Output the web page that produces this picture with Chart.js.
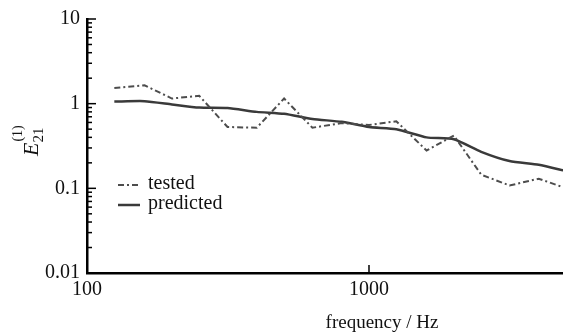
<!DOCTYPE html>
<html>
<head>
<meta charset="utf-8">
<script src="https://cdn.jsdelivr.net/npm/chart.js@4/dist/chart.umd.min.js"></script>
<style>
  body { margin: 0; background: #fff; }
  #wrap { width: 563px; height: 336px; position: relative; }
</style>
</head>
<body>
<div id="wrap"><canvas id="chart"></canvas></div>
<script>
// data (1/3-octave bands)
const freqs = [125, 160, 200, 250, 315, 400, 500, 630, 800, 1000, 1250, 1600, 2000, 2500, 3150, 4000, 5000];
const tested = [1.53, 1.65, 1.15, 1.24, 0.53, 0.52, 1.15, 0.52, 0.59, 0.56, 0.62, 0.28, 0.42, 0.145, 0.108, 0.13, 0.1];
const predicted = [1.06, 1.07, 0.98, 0.9, 0.89, 0.8, 0.76, 0.66, 0.61, 0.53, 0.5, 0.4, 0.38, 0.27, 0.21, 0.19, 0.16];
const xTicks = [100, 1000];
const yTicks = [0.01, 0.1, 1, 10];
const seriesNames = ["tested", "predicted"];

const serif = "'Liberation Serif', 'Times New Roman', serif";

// tick marks, legend and axis titles
const extras = {
  id: "extras",
  afterDraw(chart) {
    const ctx = chart.ctx;
    const x = chart.scales.x;
    const y = chart.scales.y;
    const left = chart.chartArea.left;
    const bottom = chart.chartArea.bottom;
    ctx.save();
    ctx.strokeStyle = "#000";
    ctx.lineWidth = 1.5;

    // y ticks, inward
    yTicks.forEach((d) => {
      const py = y.getPixelForValue(d);
      ctx.beginPath();
      ctx.moveTo(left, py);
      ctx.lineTo(left + 9, py);
      ctx.stroke();
      if (d < 10) {
        for (let k = 2; k < 10; k++) {
          const my = y.getPixelForValue(d * k);
          ctx.beginPath();
          ctx.moveTo(left, my);
          ctx.lineTo(left + 5, my);
          ctx.stroke();
        }
      }
    });

    // x ticks, upward
    xTicks.forEach((v) => {
      const px = x.getPixelForValue(v);
      ctx.beginPath();
      ctx.moveTo(px, bottom);
      ctx.lineTo(px, bottom - 8);
      ctx.stroke();
    });

    // legend
    ctx.font = "20px " + serif;
    ctx.fillStyle = "#111";
    ctx.textBaseline = "middle";
    chart.data.datasets.forEach((ds, i) => {
      const ly = 185 + i * 20;
      ctx.save();
      ctx.strokeStyle = ds.borderColor;
      ctx.lineWidth = ds.borderWidth;
      ctx.setLineDash(ds.borderDash || []);
      ctx.beginPath();
      ctx.moveTo(118, ly);
      ctx.lineTo(140, ly);
      ctx.stroke();
      ctx.restore();
      ctx.fillText(seriesNames[i], 148, ly - 1);
    });

    // x title
    ctx.textAlign = "center";
    ctx.textBaseline = "alphabetic";
    ctx.font = "19px " + serif;
    ctx.fillText("frequency / Hz", 382, 328);

    // y title E_21^(1), rotated
    ctx.translate(38, 156);
    ctx.rotate(-Math.PI / 2);
    ctx.textAlign = "left";
    ctx.font = "italic 22px " + serif;
    ctx.fillText("E", 0, 0);
    const w = ctx.measureText("E").width;
    ctx.font = "15px " + serif;
    ctx.fillText("21", w, 5);
    ctx.font = "14px " + serif;
    ctx.fillText("(1)", w + 1, -16);
    ctx.restore();
  }
};

new Chart(document.getElementById("chart"), {
  type: "line",
  data: {
    datasets: [
      {
        label: seriesNames[0],
        data: freqs.map((f, i) => ({ x: f, y: tested[i] })),
        borderColor: "#4d4d4d",
        borderWidth: 2,
        borderDash: [6, 3, 2, 3],
        pointRadius: 0,
        tension: 0
      },
      {
        label: seriesNames[1],
        data: freqs.map((f, i) => ({ x: f, y: predicted[i] })),
        borderColor: "#3a3a3a",
        borderWidth: 2.5,
        pointRadius: 0,
        tension: 0.2
      }
    ]
  },
  options: {
    responsive: true,
    maintainAspectRatio: false,
    animation: false,
    layout: { padding: { top: 14, left: 0, right: 0, bottom: 0 } },
    plugins: {
      legend: { display: false },
      tooltip: { enabled: false }
    },
    scales: {
      x: {
        type: "logarithmic",
        min: 100,
        max: 4875,
        grid: { display: false, drawTicks: false },
        border: { display: true, color: "#000", width: 2.5 },
        afterBuildTicks: (s) => { s.ticks = xTicks.map((v) => ({ value: v })); },
        afterFit: (s) => { s.height = 63; },
        ticks: {
          autoSkip: false,
          maxRotation: 0,
          padding: 5,
          color: "#111",
          font: { family: serif, size: 20 },
          callback: (v) => String(v)
        }
      },
      y: {
        type: "logarithmic",
        min: 0.01,
        max: 10,
        grid: { display: false, drawTicks: false },
        border: { display: true, color: "#000", width: 2.5 },
        afterBuildTicks: (s) => { s.ticks = yTicks.map((v) => ({ value: v })); },
        afterFit: (s) => { s.width = 87; },
        ticks: {
          autoSkip: false,
          padding: 7,
          color: "#111",
          font: { family: serif, size: 20 },
          callback: (v) => String(v)
        }
      }
    }
  },
  plugins: [extras]
});
</script>
</body>
</html>
